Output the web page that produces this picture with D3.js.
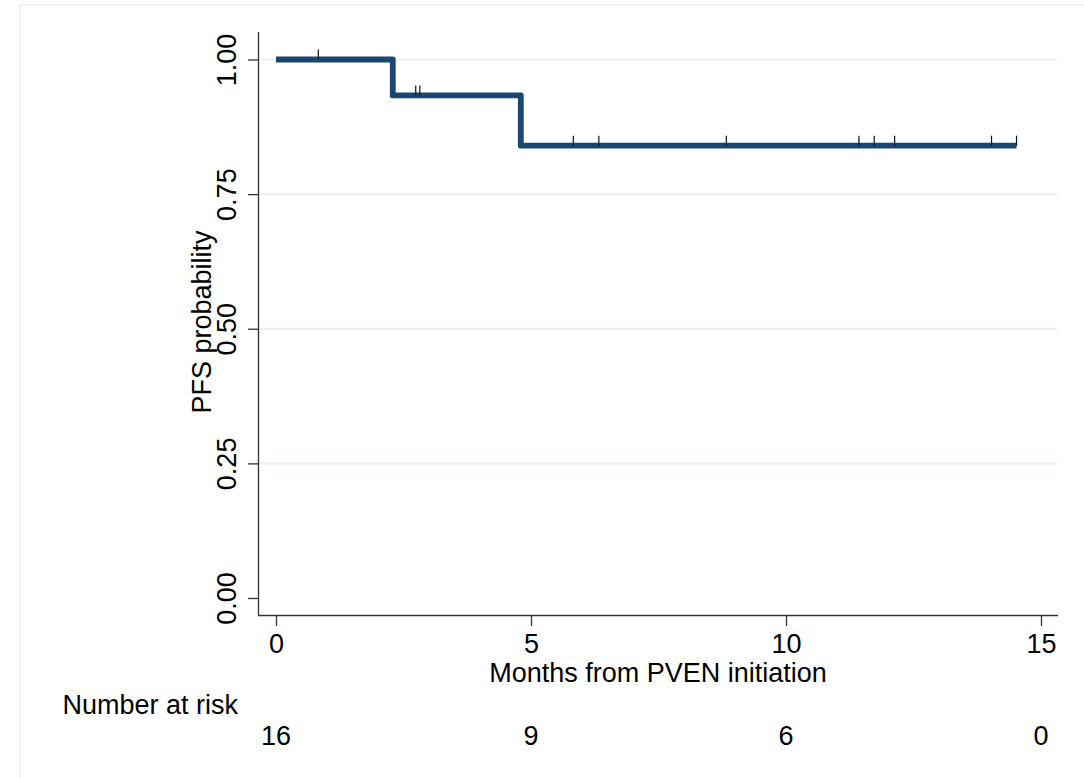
<!DOCTYPE html>
<html>
<head>
<meta charset="utf-8">
<script src="https://cdn.jsdelivr.net/npm/d3@7"></script>
<style>
  body { margin: 0; background: #fff; }
  text { font-family: "Liberation Sans", Arial, Helvetica, sans-serif; fill: #000; }
</style>
</head>
<body>
<div id="chart"></div>
<script>
// KM step curve: time where each level starts, and survival level
const stepTimes = [0, 2.29, 4.8]
const stepSurv  = [1, 0.9333, 0.84]
const endTime = 14.52
// censoring marks (months)
const censorTimes = [0.83, 2.74, 2.82, 5.83, 6.33, 8.83, 11.43, 11.73, 12.13, 14.03, 14.52]
const xTicks = [0, 5, 10, 15]
const yTicks = [0, 0.25, 0.5, 0.75, 1]
const atRisk = [16, 9, 6, 0]

const width = 1084, height = 778
const navy = '#1a476f'
const fs = '27px'

const svg = d3.select('#chart').append('svg')
  .attr('width', width)
  .attr('height', height)

// outer frame
svg.append('rect')
  .attr('x', 20).attr('y', 5)
  .attr('width', width + 10).attr('height', height + 10)
  .attr('fill', 'none')
  .attr('stroke', '#eaf0f0')
  .attr('stroke-width', 1.5)

const x = d3.scaleLinear().domain([0, 15]).range([276, 1041])
const y = d3.scaleLinear().domain([0, 1]).range([598, 59.5])

// gridlines
svg.append('g')
  .selectAll('line')
  .data(yTicks.filter(d => d > 0))
  .join('line')
    .attr('x1', 258).attr('x2', 1057)
    .attr('y1', d => y(d)).attr('y2', d => y(d))
    .attr('stroke', '#e5eff1')
    .attr('stroke-width', 2)

// survival curve
const pts = []
stepTimes.forEach((t, i) => {
  if (i > 0) pts.push([t, stepSurv[i - 1]])
  pts.push([t, stepSurv[i]])
})
pts.push([endTime, stepSurv[stepSurv.length - 1]])

svg.append('path')
  .datum(pts)
  .attr('fill', 'none')
  .attr('stroke', navy)
  .attr('stroke-width', 5.8)
  .attr('stroke-linejoin', 'round')
  .attr('d', d3.line().x(d => x(d[0])).y(d => y(d[1])))

function survAt(t) {
  let s = 1
  stepTimes.forEach((st, i) => { if (t >= st) s = stepSurv[i] })
  return s
}

svg.append('g')
  .selectAll('line')
  .data(censorTimes)
  .join('line')
    .attr('x1', d => x(d)).attr('x2', d => x(d))
    .attr('y1', d => y(survAt(d)) - 10)
    .attr('y2', d => y(survAt(d)))
    .attr('stroke', '#111')
    .attr('stroke-width', 1.2)

// axes
function xAxis(g) {
  g.attr('transform', 'translate(0, 615)')
    .call(d3.axisBottom(x).tickValues(xTicks).tickSize(11).tickPadding(8).tickSizeOuter(0))
    .attr('font-size', fs)
  g.select('.domain').attr('d', 'M258,0.5H1058').attr('stroke', '#333').attr('stroke-width', 1.3)
  g.selectAll('.tick line').attr('stroke', '#333').attr('stroke-width', 1.3)
  g.selectAll('.tick text').attr('fill', '#000').attr('font-family', '"Liberation Sans", Arial, sans-serif')
}

function yAxis(g) {
  g.attr('transform', 'translate(258, 0)')
    .call(d3.axisLeft(y).tickValues(yTicks).tickFormat(d3.format('.2f')).tickSize(10).tickSizeOuter(0))
    .attr('font-size', fs)
  g.select('.domain').attr('d', 'M0.5,32V615').attr('stroke', '#333').attr('stroke-width', 1.3)
  g.selectAll('.tick line').attr('stroke', '#333').attr('stroke-width', 1.3)
  g.selectAll('.tick text')
    .attr('fill', '#000')
    .attr('font-family', '"Liberation Sans", Arial, sans-serif')
    .attr('x', null).attr('dy', null)
    .attr('text-anchor', 'middle')
    .attr('transform', 'translate(-22,0) rotate(-90)')
}

svg.append('g').call(xAxis)
svg.append('g').call(yAxis)

// axis titles
svg.append('text')
  .attr('x', 658).attr('y', 682)
  .attr('text-anchor', 'middle')
  .attr('font-size', fs)
  .text('Months from PVEN initiation')

svg.append('text')
  .attr('transform', 'translate(211, 322) rotate(-90)')
  .attr('text-anchor', 'middle')
  .attr('font-size', fs)
  .text('PFS probability')

// number at risk
svg.append('text')
  .attr('x', 238).attr('y', 714)
  .attr('text-anchor', 'end')
  .attr('font-size', fs)
  .text('Number at risk')

svg.append('g')
  .selectAll('text')
  .data(atRisk)
  .join('text')
    .attr('x', (d, i) => x(xTicks[i]))
    .attr('y', 745)
    .attr('text-anchor', 'middle')
    .attr('font-size', fs)
    .text(d => d)
</script>
</body>
</html>
